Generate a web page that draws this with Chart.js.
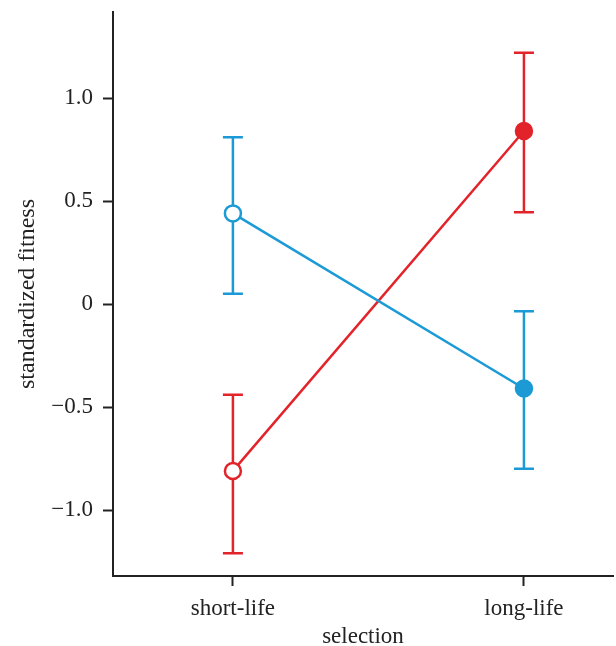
<!DOCTYPE html>
<html>
<head>
<meta charset="utf-8">
<script src="https://cdn.jsdelivr.net/npm/chart.js@4"></script>
<style>
  html, body { margin: 0; padding: 0; background: #fff; }
  #wrap { width: 616px; height: 646px; }
</style>
</head>
<body>
<div id="wrap"><canvas id="c"></canvas></div>
<script>
// categories on the x axis (positions 0 and 1)
var categories = ['short-life', 'long-life'];
var yTicks = [-1, -0.5, 0, 0.5, 1];
var yTickLabels = ['\u22121.0', '\u22120.5', '0', '0.5', '1.0'];

// blue series: open circle at short-life, filled at long-life
var blueMean = [0.44, -0.41];
var blueLow  = [0.05, -0.80];
var blueHigh = [0.81, -0.035];

// red series
var redMean = [-0.81, 0.84];
var redLow  = [-1.21, 0.445];
var redHigh = [-0.44, 1.22];

var BLUE = '#1b9ad6';
var RED = '#e2232a';

function pts(vals) {
    return vals.map(function(v, i) { return { x: i, y: v }; });
}

// draws vertical error bars with caps from the low/high arrays
var errorBars = {
    id: 'errorBars',
    beforeDatasetsDraw: function(chart) {
        var ctx = chart.ctx;
        var xs = chart.scales.x, ys = chart.scales.y;
        chart.data.datasets.forEach(function(ds) {
            ctx.save();
            ctx.strokeStyle = ds.borderColor;
            ctx.lineWidth = 2.5;
            ds.low.forEach(function(lo, i) {
                var px = xs.getPixelForValue(i);
                var y1 = ys.getPixelForValue(lo);
                var y2 = ys.getPixelForValue(ds.high[i]);
                ctx.beginPath();
                ctx.moveTo(px, y1); ctx.lineTo(px, y2);
                ctx.moveTo(px - 10, y1); ctx.lineTo(px + 10, y1);
                ctx.moveTo(px - 10, y2); ctx.lineTo(px + 10, y2);
                ctx.stroke();
            });
            ctx.restore();
        });
    }
};

var serif = '"Liberation Serif", "DejaVu Serif", serif';

new Chart(document.getElementById('c'), {
    type: 'line',
    data: {
        datasets: [
            {
                data: pts(blueMean), low: blueLow, high: blueHigh,
                borderColor: BLUE, borderWidth: 2.5,
                pointRadius: 8, pointBorderWidth: 2.5,
                pointBackgroundColor: ['#ffffff', BLUE],
                pointBorderColor: BLUE
            },
            {
                data: pts(redMean), low: redLow, high: redHigh,
                borderColor: RED, borderWidth: 2.5,
                pointRadius: 8, pointBorderWidth: 2.5,
                pointBackgroundColor: ['#ffffff', RED],
                pointBorderColor: RED
            }
        ]
    },
    options: {
        responsive: true,
        maintainAspectRatio: false,
        animation: false,
        layout: { autoPadding: false, padding: { top: 12, right: 3, left: 0, bottom: 0 } },
        plugins: { legend: { display: false }, tooltip: { enabled: false } },
        scales: {
            x: {
                type: 'linear',
                min: -0.412, max: 1.306,
                afterBuildTicks: function(s) { s.ticks = [{ value: 0 }, { value: 1 }]; },
                afterFit: function(s) { s.height = 70; s.paddingLeft = 0; s.paddingRight = 0; },
                ticks: {
                    callback: function(v) { return categories[v]; },
                    color: '#222', font: { family: serif, size: 23 }, padding: 9
                },
                grid: { drawOnChartArea: false, tickLength: 10, color: '#222', tickWidth: 2 },
                border: { color: '#222', width: 2 },
                title: {
                    display: true, text: 'selection', color: '#222',
                    font: { family: serif, size: 23 }, padding: { top: 9, bottom: -5 }
                }
            },
            y: {
                min: -1.32, max: 1.4175,
                afterBuildTicks: function(s) { s.ticks = yTicks.map(function(v) { return { value: v }; }); },
                afterFit: function(s) { s.width = 113; s.paddingTop = 0; s.paddingBottom = 0; },
                ticks: {
                    callback: function(v) { return yTickLabels[yTicks.indexOf(v)]; },
                    color: '#222', font: { family: serif, size: 23 }, padding: 10
                },
                grid: { drawOnChartArea: false, tickLength: 10, color: '#222', tickWidth: 2 },
                border: { color: '#222', width: 2 },
                title: {
                    display: true, text: 'standardized fitness', color: '#222',
                    font: { family: serif, size: 24 }, padding: { top: 13, bottom: 0 }
                }
            }
        }
    },
    plugins: [errorBars]
});
</script>
</body>
</html>
